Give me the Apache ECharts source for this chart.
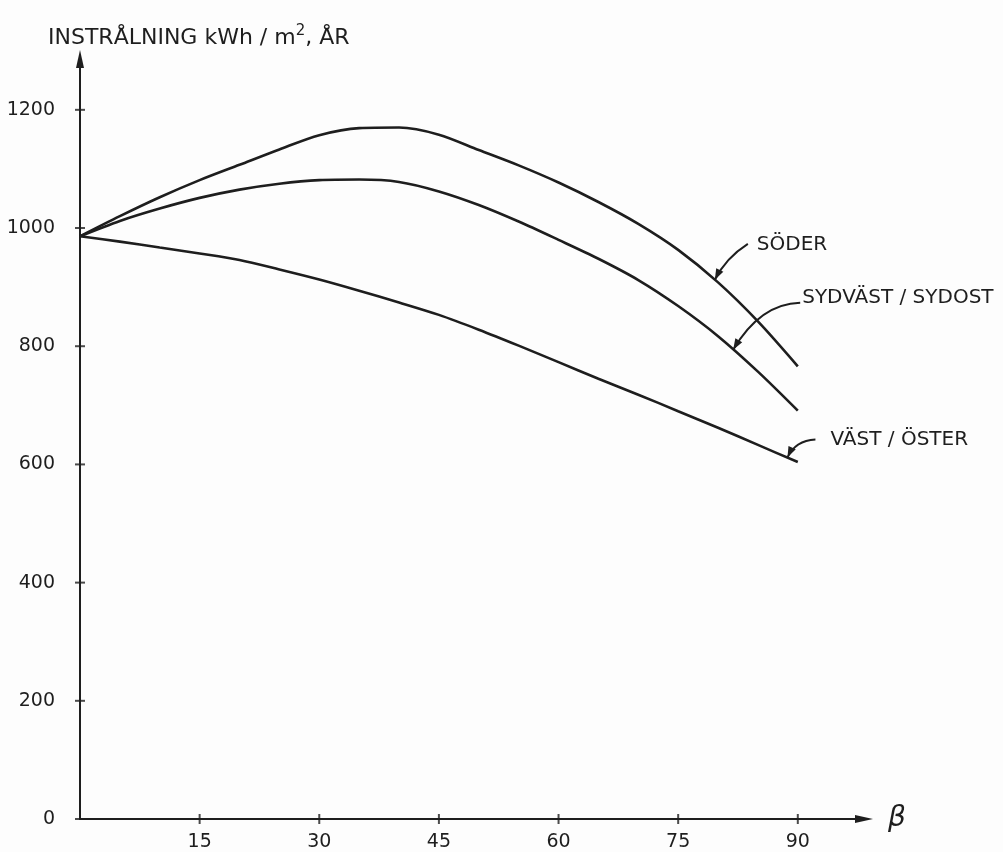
<!DOCTYPE html>
<html><head><meta charset="utf-8">
<script src="https://cdn.jsdelivr.net/npm/echarts@6/dist/echarts.min.js"></script>
<style>html,body{margin:0;padding:0;background:#fdfdfd}#c{width:1003px;height:852px}</style>
</head><body><div id="c"></div>
<script>
// ---- data ----
const beta      = [0, 5, 10, 15, 20, 25, 30, 35, 40, 45, 50, 55, 60, 65, 70, 75, 80, 85, 90];
const soder     = [986, 1020, 1052, 1081, 1107, 1133, 1157, 1169, 1170, 1158, 1132, 1106, 1077, 1044, 1007, 963, 908, 842, 766];
const sydvast   = [986, 1012, 1033, 1051, 1065, 1075, 1081, 1082, 1078, 1062, 1039, 1011, 980, 948, 912, 868, 817, 757, 691];
const vastOster = [986, 977, 967, 957, 946, 930, 913, 894, 874, 853, 828, 801, 773, 745, 718, 690, 662, 633, 604];
const seriesNames = ['SÖDER', 'SYDVÄST / SYDOST', 'VÄST / ÖSTER'];
const yTicks = [0, 200, 400, 600, 800, 1000, 1200];
const xTicks = [15, 30, 45, 60, 75, 90];
const anchorBeta = [79.6, 81.9, 88.7];   // where each annotation arrow touches its curve

const allSeries = [soder, sydvast, vastOster];
const ink = '#1e1e1e';
const font = '"DejaVu Sans", sans-serif';

// annotation layout (pixel offsets relative to the arrow tip)
const annLayout = [
  { text: [42, -35], start: [33, -36], ctrl: [11, -22] },
  { text: [69, -52], start: [67, -47], ctrl: [27, -46] },
  { text: [43, -18], start: [28, -18], ctrl: [8, -17] }
];

const chart = echarts.init(document.getElementById('c'), null, { renderer: 'canvas' });

// axis extents (axes run a little past the last tick, ending in arrows)
const xMin = 0, xMax = 98.3, yMin = 0, yMax = 1286;

// tick marks crossing the axes, drawn as scatter symbols on the axis scales
const tickSeries = [
  {
    type: 'scatter', silent: true, clip: false, z: 5,
    data: yTicks.map(v => [xMin, v]),
    symbol: 'rect', symbolSize: [10, 2], itemStyle: { color: ink }
  },
  {
    type: 'scatter', silent: true, clip: false, z: 5,
    data: xTicks.map(v => [v, yMin]),
    symbol: 'rect', symbolSize: [2, 10], itemStyle: { color: ink }
  }
];

chart.setOption({
  backgroundColor: '#fdfdfd',
  animation: false,
  title: {
    left: 43, top: 19,
    text: '{a|INSTRÅLNING kWh / m}{s|2}{a|, ÅR}',
    textStyle: {
      fontWeight: 'normal',
      rich: {
        a: { fontFamily: font, fontSize: 22, fontWeight: 'normal', color: ink },
        s: { fontFamily: font, fontSize: 15, fontWeight: 'normal', color: ink, padding: [0, 0, 14, 0] }
      }
    }
  },
  grid: { left: 80, right: 139, top: 59, bottom: 32, containLabel: false },
  xAxis: {
    type: 'value', min: xMin, max: xMax, position: 'bottom',
    name: 'β', nameLocation: 'end', nameGap: 24,
    nameTextStyle: { fontFamily: font, fontSize: 28, fontStyle: 'italic', color: ink, verticalAlign: 'middle', padding: [0, 0, 2, 0] },
    axisLine: { show: true, lineStyle: { color: ink, width: 2 }, symbol: ['none', 'triangle'], symbolSize: [8, 18], symbolOffset: [0, 0] },
    axisTick: { show: false },
    axisLabel: { show: true, customValues: xTicks, margin: 14, fontFamily: font, fontSize: 19, color: ink, formatter: v => String(v) },
    splitLine: { show: false }
  },
  yAxis: {
    type: 'value', min: yMin, max: yMax, position: 'left',
    axisLine: { show: true, lineStyle: { color: ink, width: 2 }, symbol: ['none', 'triangle'], symbolSize: [8, 18], symbolOffset: [0, 0] },
    axisTick: { show: false },
    axisLabel: { show: true, customValues: yTicks, margin: 25, fontFamily: font, fontSize: 19, color: ink, formatter: v => String(v) },
    splitLine: { show: false }
  },
  series: allSeries.map((arr, i) => ({
    name: seriesNames[i],
    type: 'line',
    data: beta.map((b, j) => [b, arr[j]]),
    smooth: 0.3,
    showSymbol: false,
    lineStyle: { color: ink, width: 2.6 },
    silent: true
  })).concat(tickSeries)
});

function interp(arr, b) {
  for (let j = 0; j < beta.length - 1; j++) {
    if (b >= beta[j] && b <= beta[j + 1]) {
      const t = (b - beta[j]) / (beta[j + 1] - beta[j]);
      return arr[j] + t * (arr[j + 1] - arr[j]);
    }
  }
  return arr[arr.length - 1];
}

const graphics = [];
allSeries.forEach((arr, i) => {
  const tip = chart.convertToPixel({ xAxisIndex: 0, yAxisIndex: 0 }, [anchorBeta[i], interp(arr, anchorBeta[i])]);
  const L = annLayout[i];
  const tx = tip[0], ty = tip[1];
  graphics.push({
    type: 'text', x: tx + L.text[0], y: ty + L.text[1], silent: true,
    style: { text: seriesNames[i], fill: ink, font: '20px ' + font, verticalAlign: 'middle', align: 'left' }
  });
  graphics.push({
    type: 'bezierCurve', silent: true,
    shape: { x1: tx + L.start[0], y1: ty + L.start[1], cpx1: tx + L.ctrl[0], cpy1: ty + L.ctrl[1], x2: tx, y2: ty },
    style: { stroke: ink, lineWidth: 2, fill: null }
  });
  let dx = -L.ctrl[0], dy = -L.ctrl[1];
  const len = Math.hypot(dx, dy); dx /= len; dy /= len;
  const hl = 11, hw = 4;
  const bx = tx - dx * hl, by = ty - dy * hl;
  graphics.push({
    type: 'polygon', silent: true,
    shape: { points: [[tx, ty], [bx - dy * hw, by + dx * hw], [bx + dy * hw, by - dx * hw]] },
    style: { fill: ink }
  });
});
chart.setOption({ graphic: graphics });
</script>
</body></html>
